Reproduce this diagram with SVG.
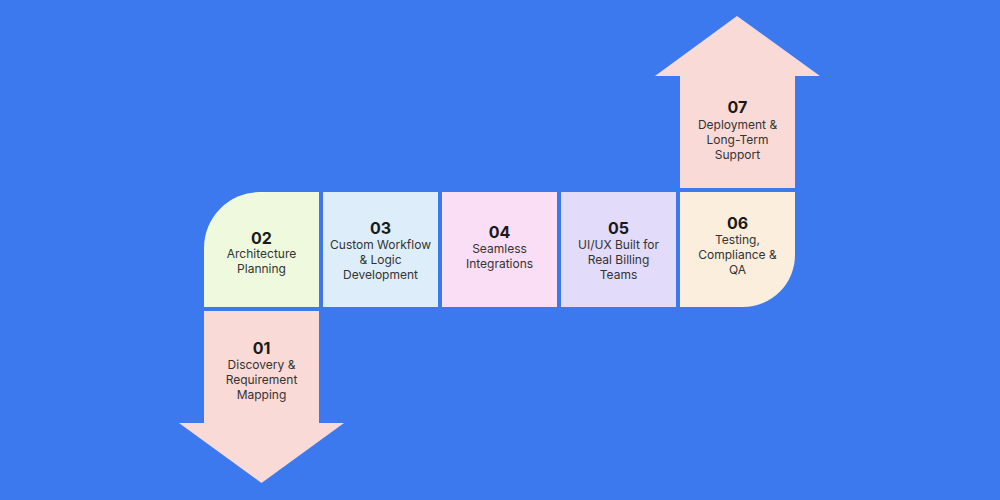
<svg xmlns="http://www.w3.org/2000/svg" width="1000" height="500" viewBox="0 0 1000 500">
<style>
.num{font-family:Inter,"Noto Sans","Liberation Sans",sans-serif;font-weight:700;font-size:16px;fill:#1a1a1a;text-anchor:middle}
.lbl{font-family:Inter,"Noto Sans","Liberation Sans",sans-serif;font-size:12px;fill:#333;text-anchor:middle}
</style>
<rect width="1000" height="500" fill="#3C79EE"/>
<g id="connectors"></g>
<g id="step01">
<path d="M204 311 H319 V423 H344 L261.5 483 L179 423 H204 Z" fill="#FADAD7"/>
<text class="num" x="261.5" y="353.5">01</text>
<text class="lbl" x="261.5" y="368.5">Discovery &amp;</text>
<text class="lbl" x="261.5" y="383.5">Requirement</text>
<text class="lbl" x="261.5" y="398.5">Mapping</text>
</g>
<g id="step02">
<path d="M204 307 V248 A56 56 0 0 1 260 192 H319 V307 Z" fill="#EFF9DE"/>
<text class="num" x="261.5" y="243.5">02</text>
<text class="lbl" x="261.5" y="258">Architecture</text>
<text class="lbl" x="261.5" y="273">Planning</text>
</g>
<g id="step03">
<rect x="323" y="192" width="115" height="115" fill="#DDEEFA"/>
<text class="num" x="380.5" y="233.5">03</text>
<text class="lbl" x="380.5" y="248.5">Custom Workflow</text>
<text class="lbl" x="380.5" y="263.5">&amp; Logic</text>
<text class="lbl" x="380.5" y="278.5">Development</text>
</g>
<g id="step04">
<rect x="442" y="192" width="115" height="115" fill="#F9DEF6"/>
<text class="num" x="499.5" y="237.5">04</text>
<text class="lbl" x="499.5" y="252.5">Seamless</text>
<text class="lbl" x="499.5" y="267.5">Integrations</text>
</g>
<g id="step05">
<rect x="561" y="192" width="115" height="115" fill="#E3DBFA"/>
<text class="num" x="618.5" y="233.5">05</text>
<text class="lbl" x="618.5" y="248.5">UI/UX Built for</text>
<text class="lbl" x="618.5" y="263.5">Real Billing</text>
<text class="lbl" x="618.5" y="278.5">Teams</text>
</g>
<g id="step06">
<path d="M680 192 H795 V255 A52 52 0 0 1 743 307 H680 Z" fill="#FBEEDC"/>
<text class="num" x="737.5" y="228.5">06</text>
<text class="lbl" x="737.5" y="243.5">Testing,</text>
<text class="lbl" x="737.5" y="258.5">Compliance &amp;</text>
<text class="lbl" x="737.5" y="273.5">QA</text>
</g>
<g id="step07">
<path d="M680 188 V76 H655 L737 16 L820 76 H795 V188 Z" fill="#FADAD7"/>
<text class="num" x="737.5" y="112.5">07</text>
<text class="lbl" x="737.5" y="128.5">Deployment &amp;</text>
<text class="lbl" x="737.5" y="143.5">Long-Term</text>
<text class="lbl" x="737.5" y="158.5">Support</text>
</g>
</svg>
